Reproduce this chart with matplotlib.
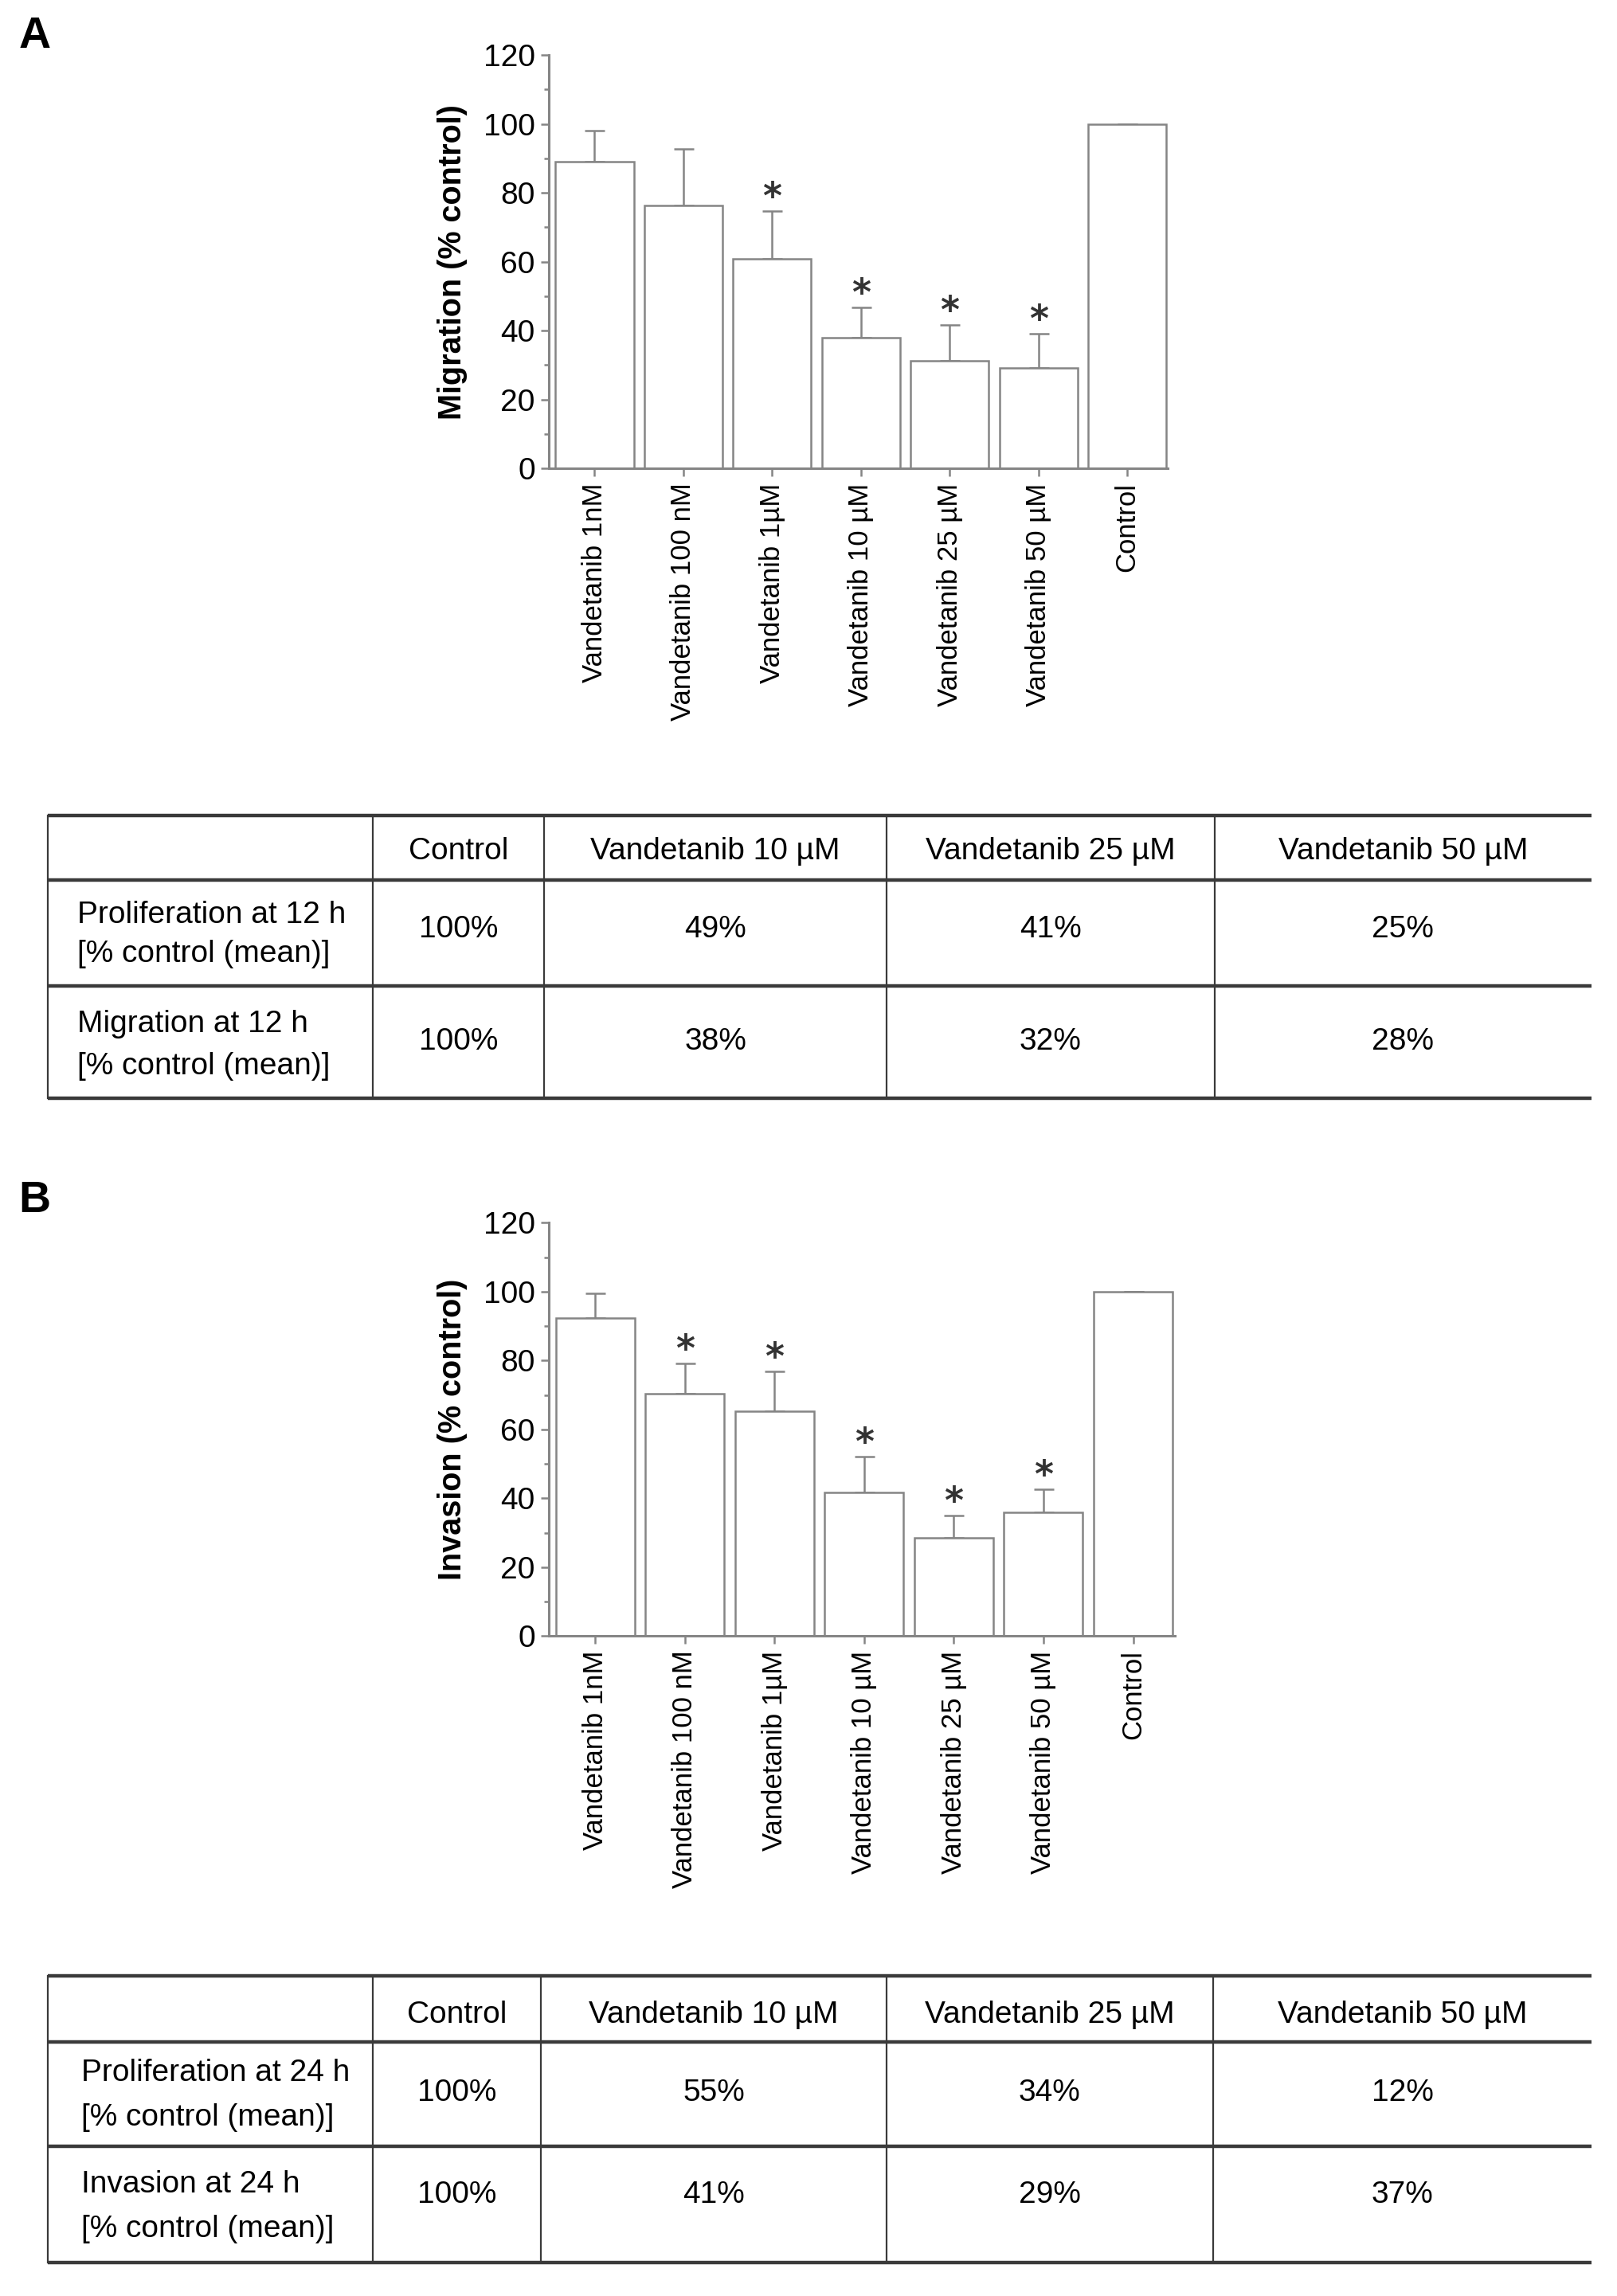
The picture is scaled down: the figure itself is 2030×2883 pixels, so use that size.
import matplotlib
matplotlib.use('Agg')
import matplotlib.pyplot as plt
from matplotlib import font_manager
from matplotlib.lines import Line2D
from matplotlib.ticker import MultipleLocator

names = {f.name for f in font_manager.fontManager.ttflist}
NARROW = 'Liberation Sans Narrow' if 'Liberation Sans Narrow' in names else 'Liberation Sans'
plt.rcParams['font.family'] = ['Liberation Sans', 'DejaVu Sans']

# ---------------- data ----------------
categories = ['Vandetanib 1nM', 'Vandetanib 100 nM', 'Vandetanib 1µM', 'Vandetanib 10 µM',
              'Vandetanib 25 µM', 'Vandetanib 50 µM', 'Control']
migration_mean = [89.0, 76.4, 60.8, 38.0, 31.3, 29.1, 100]
migration_err = [9.2, 16.3, 13.9, 8.8, 10.3, 10.0, 0]
migration_sig = [False, False, True, True, True, True, False]

invasion_mean = [92.4, 70.3, 65.2, 41.7, 28.5, 36.0, 100]
invasion_err = [7.1, 8.9, 11.7, 10.3, 6.5, 6.6, 0]
invasion_sig = [False, True, True, True, True, True, False]

yticks = [0, 20, 40, 60, 80, 100, 120]

table_cols = ['Control', 'Vandetanib 10 µM', 'Vandetanib 25 µM', 'Vandetanib 50 µM']
tableA_rows = [['Proliferation at 12 h', '[% control (mean)]'],
               ['Migration at 12 h', '[% control (mean)]']]
tableA_vals = [['100%', '49%', '41%', '25%'],
               ['100%', '38%', '32%', '28%']]
tableB_rows = [['Proliferation at 24 h', '[% control (mean)]'],
               ['Invasion at 24 h', '[% control (mean)]']]
tableB_vals = [['100%', '55%', '34%', '12%'],
               ['100%', '41%', '29%', '37%']]

# ---------------- layout helpers (reference display coords 1115 x 1583) ----------------
W, H = 1115.0, 1583.0
def fx(x):
    return x / W
def fy(y):
    return 1 - y / H

GRAY = '#858585'
LINE = '#3a3a3a'
TFS = 28  # table font size

fig = plt.figure(figsize=(20.31, 28.83), dpi=100)


def bar_panel(rect, means, errs, sig, ylabel, xlim):
    ax = fig.add_axes(rect)
    x = list(range(len(categories)))
    ax.bar(x, means, width=0.88, color='white', edgecolor=GRAY, linewidth=1.8, zorder=2)
    ax.errorbar(x, means, yerr=[[0] * len(errs), errs], fmt='none', ecolor=GRAY,
                elinewidth=1.8, capsize=9, capthick=1.8, zorder=1)
    for xi, m, e, s in zip(x, means, errs, sig):
        if s:
            ax.text(xi, m + e + 3.6, '*', ha='center', va='center', fontsize=33,
                    fontweight='bold', color='#333333', family='DejaVu Sans')
    ax.set_ylim(0, 120)
    ax.set_xlim(*xlim)
    ax.set_yticks(yticks)
    ax.yaxis.set_minor_locator(MultipleLocator(10))
    ax.set_xticks(x)
    ax.set_xticklabels(categories, rotation=90, fontsize=25, va='top')
    for lab in ax.get_yticklabels():
        lab.set_family(NARROW)
        lab.set_fontsize(28)
    ax.tick_params(axis='both', which='major', direction='out', length=7, width=1.8,
                   color=GRAY)
    ax.tick_params(axis='y', which='minor', direction='out', length=4, width=1.8, color=GRAY)
    ax.tick_params(axis='x', pad=6)
    ax.tick_params(axis='y', pad=5)
    for sp in ['top', 'right']:
        ax.spines[sp].set_visible(False)
    for sp in ['left', 'bottom']:
        ax.spines[sp].set_color(GRAY)
        ax.spines[sp].set_linewidth(2.2)
    ax.set_ylabel(ylabel, fontsize=28.5, fontweight='bold', labelpad=14)
    return ax


# Panel A
bar_panel([fx(378), fy(323), fx(805) - fx(378), fy(38) - fy(323)],
          migration_mean, migration_err, migration_sig, 'Migration (% control)', (-0.52, 6.46))
# Panel B
bar_panel([fx(378), fy(1128), fx(810) - fx(378), fy(843) - fy(1128)],
          invasion_mean, invasion_err, invasion_sig, 'Invasion (% control)', (-0.52, 6.47))

fig.text(fx(13), fy(25), 'A', fontsize=40, fontweight='bold', va='center', ha='left')
fig.text(fx(13), fy(828), 'B', fontsize=40, fontweight='bold', va='center', ha='left')


def draw_table(top, hdr_bot, r1_bot, bot, colx, rows, vals, label_x, lab_y, val_y, hdr_y):
    left, right = 33, 1097
    for y in [top, hdr_bot, r1_bot, bot]:
        fig.add_artist(Line2D([fx(left), fx(right)], [fy(y), fy(y)], color=LINE,
                              linewidth=3.2, solid_capstyle='butt'))
    for x in [left] + colx:
        fig.add_artist(Line2D([fx(x), fx(x)], [fy(top), fy(bot)], color=LINE, linewidth=1.6))
    edges = colx + [right]
    centers = [(edges[i] + edges[i + 1]) / 2 for i in range(len(edges) - 1)]
    for c, name in zip(centers, table_cols):
        fig.text(fx(c), fy(hdr_y), name, fontsize=TFS, ha='center', va='center')
    for r in range(len(rows)):
        fig.text(fx(label_x), fy(lab_y[r][0]), rows[r][0], fontsize=TFS, ha='left', va='center')
        fig.text(fx(label_x), fy(lab_y[r][1]), rows[r][1], fontsize=TFS, ha='left', va='center')
        for c, v in zip(centers, vals[r]):
            fig.text(fx(c), fy(val_y[r]), v, fontsize=TFS, ha='center', va='center')


draw_table(562, 607, 680, 757, [257, 375, 611, 837], tableA_rows, tableA_vals, 53,
           [(631, 658), (706, 735)], [641, 718], 587)
draw_table(1362, 1408, 1480, 1560, [257, 373, 611, 836], tableB_rows, tableB_vals, 56,
           [(1429, 1460), (1506, 1537)], [1443, 1513], 1389)

fig.savefig('out.png', dpi=100, facecolor='white')
